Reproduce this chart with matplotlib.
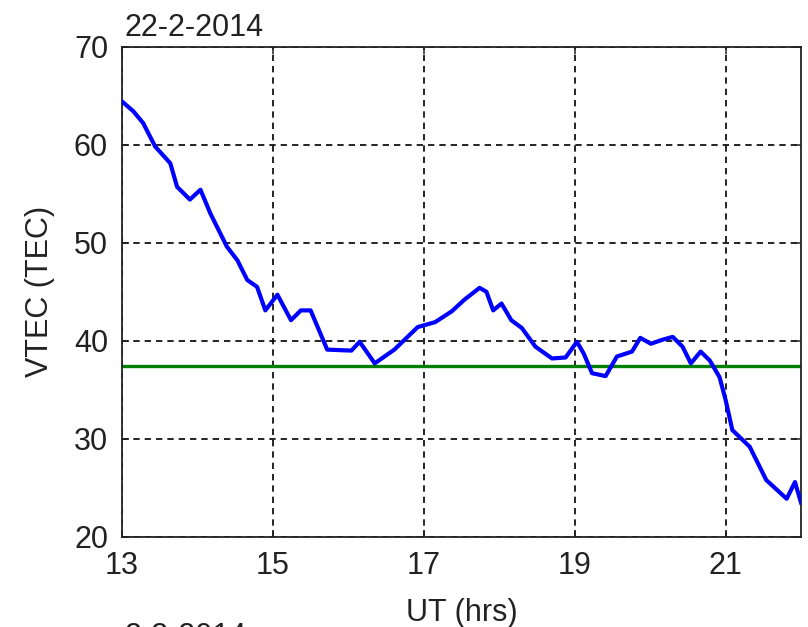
import matplotlib
matplotlib.use("Agg")
import matplotlib.pyplot as plt

# Data
ut_hours = [13.0, 13.15, 13.28, 13.44, 13.64, 13.73, 13.9, 14.04, 14.17, 14.39,
            14.53, 14.66, 14.79, 14.9, 15.06, 15.24, 15.37, 15.5, 15.72, 16.04,
            16.15, 16.35, 16.61, 16.92, 17.15, 17.37, 17.54, 17.74, 17.83, 17.92,
            18.03, 18.16, 18.3, 18.48, 18.7, 18.88, 19.03, 19.12, 19.23, 19.41,
            19.56, 19.76, 19.87, 20.01, 20.16, 20.3, 20.43, 20.54, 20.67, 20.79,
            20.92, 21.0, 21.09, 21.32, 21.54, 21.81, 21.92, 22.0]
vtec = [64.4, 63.4, 62.2, 59.8, 58.1, 55.7, 54.4, 55.4, 53.0, 49.6,
        48.2, 46.2, 45.5, 43.1, 44.7, 42.1, 43.1, 43.1, 39.1, 39.0,
        39.9, 37.7, 39.1, 41.4, 41.9, 43.0, 44.2, 45.4, 45.0, 43.1,
        43.8, 42.1, 41.3, 39.4, 38.2, 38.3, 39.9, 38.7, 36.7, 36.4,
        38.4, 38.9, 40.3, 39.7, 40.1, 40.4, 39.4, 37.7, 38.9, 38.0,
        36.3, 34.0, 30.9, 29.2, 25.8, 23.9, 25.6, 23.5]
mean_level = 37.4
x_ticks = [13, 15, 17, 19, 21]
y_ticks = [20, 30, 40, 50, 60, 70]
title_text = "22-2-2014"
next_title_text = "2-2-2014"

plt.rcParams['font.family'] = ['Liberation Sans', 'DejaVu Sans']
txt_color = '#222222'

fig = plt.figure(figsize=(8.08, 6.27), dpi=100)
ax = fig.add_axes([122/808, 1 - 537/627, (801 - 122)/808, (537 - 46.5)/627])

ax.plot(ut_hours, vtec, color=(0, 0, 1), lw=3.0, solid_joinstyle='round', zorder=3)
ax.axhline(mean_level, color=(0, 0.5, 0), lw=2.4, zorder=2)

ax.set_xlim(13, 22)
ax.set_ylim(20, 70)
ax.set_xticks(x_ticks)
ax.set_yticks(y_ticks)
ax.grid(True, color='black', linestyle=(0, (3.8, 3.0)), lw=1.2)
ax.set_axisbelow(True)

for s in ax.spines.values():
    s.set_linewidth(1.3)
    s.set_color('#222222')

ax.tick_params(direction='in', length=5, width=1.1, top=True, right=True,
               labelsize=22, colors=txt_color)
ax.tick_params(axis='y', pad=10)
ax.tick_params(axis='x', pad=10)

ax.set_xlabel("UT (hrs)", fontsize=22, color=txt_color, labelpad=12)
ax.set_ylabel("VTEC (TEC)", fontsize=22, color=txt_color, labelpad=14)

fig.text(125/808, 1 - 36/627, title_text, fontsize=22, color=txt_color,
         ha='left', va='baseline')
fig.text(125/808, 1 - 645/627, next_title_text, fontsize=22, color=txt_color,
         ha='left', va='baseline')

fig.savefig("out.png", dpi=100)
